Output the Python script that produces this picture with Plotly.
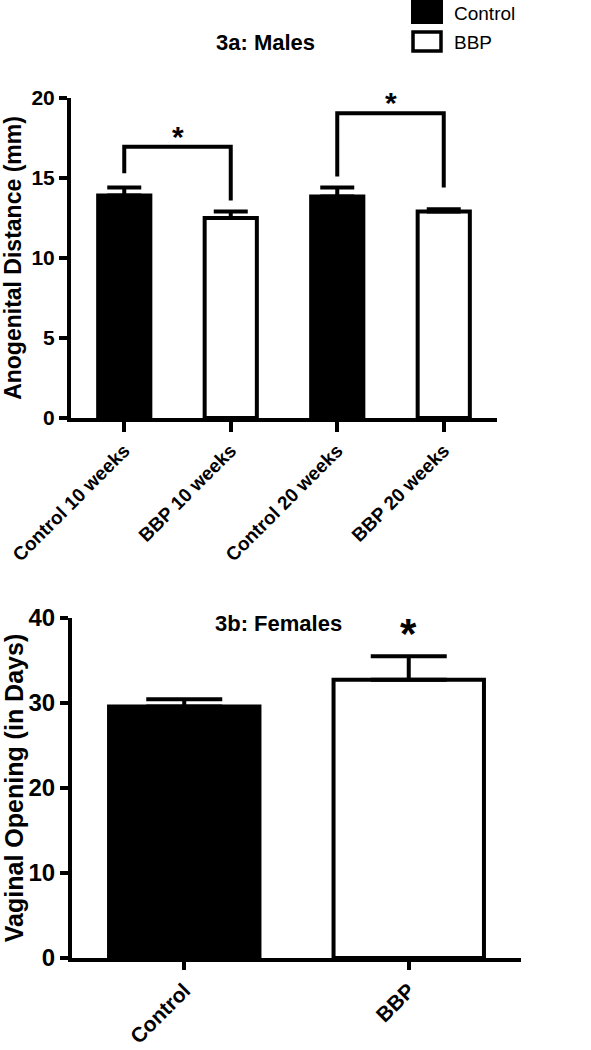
import plotly.graph_objects as go

# ---------------- data ----------------
male_categories = ["Control 10 weeks", "BBP 10 weeks", "Control 20 weeks", "BBP 20 weeks"]
male_control_cats = ["Control 10 weeks", "Control 20 weeks"]
male_control_vals = [13.9, 13.85]
male_control_err = [0.5, 0.55]
male_bbp_cats = ["BBP 10 weeks", "BBP 20 weeks"]
male_bbp_vals = [12.5, 12.9]
male_bbp_err = [0.4, 0.15]

# significance brackets: (left cat, right cat, left foot, top, right foot)
male_brackets = [
    ("Control 10 weeks", "BBP 10 weeks", 15.3, 16.95, 13.6),
    ("Control 20 weeks", "BBP 20 weeks", 15.1, 19.05, 14.4),
]

female_categories = ["Control", "BBP"]
female_vals = [29.6, 32.75]
female_err = [0.85, 2.75]

W, H = 591, 1050
FONT = "Arial, Liberation Sans, sans-serif"


def px(x):
    return x / W


def py(y):
    return 1 - y / H


fig = go.Figure()

# ---------- top panel (males) ----------
fig.add_trace(go.Bar(
    x=male_control_cats, y=male_control_vals, name="Control",
    marker=dict(color="black", line=dict(color="black", width=4)),
    width=0.49,
    error_y=dict(type="data", symmetric=False, array=male_control_err,
                 arrayminus=[0] * len(male_control_err),
                 color="black", thickness=4, width=17),
    xaxis="x", yaxis="y", showlegend=False,
))
fig.add_trace(go.Bar(
    x=male_bbp_cats, y=male_bbp_vals, name="BBP",
    marker=dict(color="white", line=dict(color="black", width=4)),
    width=0.49,
    error_y=dict(type="data", symmetric=False, array=male_bbp_err,
                 arrayminus=[0] * len(male_bbp_err),
                 color="black", thickness=4, width=17),
    xaxis="x", yaxis="y", showlegend=False,
))

for left, right, lf, top, rf in male_brackets:
    fig.add_trace(go.Scatter(
        x=[left, left, right, right], y=[lf, top, top, rf],
        mode="lines", line=dict(color="black", width=4),
        xaxis="x", yaxis="y", showlegend=False, hoverinfo="skip",
        cliponaxis=False,
    ))

# ---------- bottom panel (females) ----------
fig.add_trace(go.Bar(
    x=female_categories, y=female_vals,
    marker=dict(color=["black", "white"], line=dict(color="black", width=4)),
    width=0.67,
    error_y=dict(type="data", symmetric=False, array=female_err,
                 arrayminus=[0] * len(female_err),
                 color="black", thickness=4, width=38),
    xaxis="x2", yaxis="y2", showlegend=False,
))

axis_common = dict(showline=True, linecolor="black", linewidth=4,
                   ticks="outside", tickcolor="black", tickwidth=4,
                   showgrid=False, zeroline=False, automargin=False)

fig.update_layout(
    width=W, height=H,
    margin=dict(l=0, r=0, t=0, b=0, autoexpand=False),
    paper_bgcolor="white", plot_bgcolor="white",
    barmode="overlay",
    font=dict(family=FONT, color="black"),
    xaxis=dict(domain=[px(71), px(497)], anchor="y",
               categoryorder="array", categoryarray=male_categories,
               range=[-0.5, 3.5], tickangle=-45, ticklen=10,
               tickfont=dict(size=19, family=FONT, weight="bold"),
               **axis_common),
    yaxis=dict(domain=[py(418), py(98)], anchor="x",
               range=[0, 20], tickvals=[0, 5, 10, 15, 20], ticklen=8,
               tickfont=dict(size=21, family=FONT, weight="bold"),
               title=dict(text="Anogenital Distance (mm)", standoff=6,
                          font=dict(size=23, family=FONT, weight="bold")),
               **axis_common),
    xaxis2=dict(domain=[px(72), px(521)], anchor="y2",
                categoryorder="array", categoryarray=female_categories,
                range=[-0.5, 1.5], tickangle=-45, ticklen=8,
                tickfont=dict(size=21, family=FONT, weight="bold"),
                **axis_common),
    yaxis2=dict(domain=[py(958), py(618)], anchor="x2",
                range=[0, 40], tickvals=[0, 10, 20, 30, 40], ticklen=8,
                tickfont=dict(size=24, family=FONT, weight="bold"),
                title=dict(text="Vaginal Opening (in Days)", standoff=2,
                           font=dict(size=25, family=FONT, weight="bold")),
                **axis_common),
)

annotations = [
    dict(text="3a: Males", x=px(265), y=py(42), xref="paper", yref="paper",
         showarrow=False, xanchor="center", yanchor="middle",
         font=dict(size=22, family=FONT, weight="bold")),
    dict(text="3b: Females", x=px(278), y=py(623), xref="paper", yref="paper",
         showarrow=False, xanchor="center", yanchor="middle",
         font=dict(size=22, family=FONT, weight="bold")),
    # significance stars, anchored to the bracket tops
    dict(text="*", x=0.5, y=male_brackets[0][3], xref="x", yref="y", showarrow=False,
         xanchor="center", yanchor="bottom", yshift=-8,
         font=dict(size=30, family=FONT, weight="bold")),
    dict(text="*", x=2.5, y=male_brackets[1][3], xref="x", yref="y", showarrow=False,
         xanchor="center", yanchor="bottom", yshift=-8,
         font=dict(size=30, family=FONT, weight="bold")),
    dict(text="*", x=1, y=female_vals[1] + female_err[1], xref="x2", yref="y2",
         showarrow=False, xanchor="center", yanchor="bottom", yshift=-3,
         font=dict(size=42, family=FONT, weight="bold")),
    # legend labels
    dict(text="Control", x=px(452), y=py(13), xref="paper", yref="paper",
         showarrow=False, xanchor="left", yanchor="middle",
         font=dict(size=19, family=FONT)),
    dict(text="BBP", x=px(452), y=py(42), xref="paper", yref="paper",
         showarrow=False, xanchor="left", yanchor="middle",
         font=dict(size=19, family=FONT)),
]
fig.update_layout(annotations=annotations)

shapes = [
    dict(type="rect", xref="paper", yref="paper",
         x0=px(412), x1=px(442), y0=py(23), y1=py(0),
         fillcolor="black", line=dict(color="black", width=2)),
    dict(type="rect", xref="paper", yref="paper",
         x0=px(413), x1=px(441), y0=py(51), y1=py(32),
         fillcolor="white", line=dict(color="black", width=3.5)),
]
fig.update_layout(shapes=shapes)

fig.write_html(
    "out.html",
    config={"displayModeBar": False},
    post_script="document.body.style.margin='0px';document.body.style.overflow='hidden';",
)
